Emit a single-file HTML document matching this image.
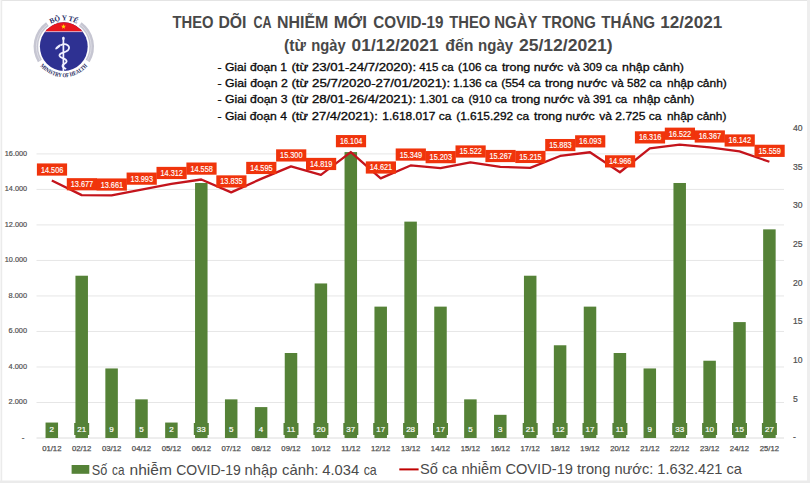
<!DOCTYPE html><html><head><meta charset="utf-8"><style>
html,body{margin:0;padding:0;background:#fff;}body{width:810px;height:483px;overflow:hidden;position:relative;font-family:"Liberation Sans", sans-serif;}
svg{position:absolute;left:0;top:0;}
</style></head><body>
<svg width="810" height="483" viewBox="0 0 810 483" font-family='"Liberation Sans", sans-serif'>
<rect x="0" y="0" width="810" height="483" fill="#fff"/>
<rect x="0" y="0" width="810" height="1" fill="#e4e4e4"/>
<rect x="0" y="0" width="1" height="483" fill="#f6f6f6"/>
<rect x="1" y="0" width="1.2" height="483" fill="#ebebeb"/>
<rect x="807" y="0" width="3" height="483" fill="#eeeeee"/>
<rect x="0" y="480.5" width="810" height="2.5" fill="#ebebeb"/>
<line x1="36.5" x2="784" y1="402.49" y2="402.49" stroke="#e6e6e6" stroke-width="1"/>
<line x1="36.5" x2="784" y1="366.98" y2="366.98" stroke="#e6e6e6" stroke-width="1"/>
<line x1="36.5" x2="784" y1="331.46" y2="331.46" stroke="#e6e6e6" stroke-width="1"/>
<line x1="36.5" x2="784" y1="295.95" y2="295.95" stroke="#e6e6e6" stroke-width="1"/>
<line x1="36.5" x2="784" y1="260.44" y2="260.44" stroke="#e6e6e6" stroke-width="1"/>
<line x1="36.5" x2="784" y1="224.92" y2="224.92" stroke="#e6e6e6" stroke-width="1"/>
<line x1="36.5" x2="784" y1="189.41" y2="189.41" stroke="#e6e6e6" stroke-width="1"/>
<line x1="36.5" x2="784" y1="153.90" y2="153.90" stroke="#e6e6e6" stroke-width="1"/>
<line x1="36.5" x2="784" y1="438" y2="438" stroke="#dcdcdc" stroke-width="1"/>
<text x="24.5" y="440.00" text-anchor="end" font-size="8" fill="#505050" stroke="#505050" stroke-width="0.2">-</text>
<text x="27.1" y="404.49" text-anchor="end" font-size="8" fill="#505050" stroke="#505050" stroke-width="0.2" textLength="18.5" lengthAdjust="spacingAndGlyphs">2.000</text>
<text x="27.1" y="368.98" text-anchor="end" font-size="8" fill="#505050" stroke="#505050" stroke-width="0.2" textLength="18.5" lengthAdjust="spacingAndGlyphs">4.000</text>
<text x="27.1" y="333.46" text-anchor="end" font-size="8" fill="#505050" stroke="#505050" stroke-width="0.2" textLength="18.5" lengthAdjust="spacingAndGlyphs">6.000</text>
<text x="27.1" y="297.95" text-anchor="end" font-size="8" fill="#505050" stroke="#505050" stroke-width="0.2" textLength="18.5" lengthAdjust="spacingAndGlyphs">8.000</text>
<text x="27.1" y="262.44" text-anchor="end" font-size="8" fill="#505050" stroke="#505050" stroke-width="0.2" textLength="22.3" lengthAdjust="spacingAndGlyphs">10.000</text>
<text x="27.1" y="226.92" text-anchor="end" font-size="8" fill="#505050" stroke="#505050" stroke-width="0.2" textLength="22.3" lengthAdjust="spacingAndGlyphs">12.000</text>
<text x="27.1" y="191.41" text-anchor="end" font-size="8" fill="#505050" stroke="#505050" stroke-width="0.2" textLength="22.3" lengthAdjust="spacingAndGlyphs">14.000</text>
<text x="27.1" y="155.90" text-anchor="end" font-size="8" fill="#505050" stroke="#505050" stroke-width="0.2" textLength="22.3" lengthAdjust="spacingAndGlyphs">16.000</text>
<text x="793" y="440.30" font-size="8.6" fill="#505050" stroke="#505050" stroke-width="0.2">-</text>
<text x="793" y="401.66" font-size="8.6" fill="#505050" stroke="#505050" stroke-width="0.2">5</text>
<text x="793" y="363.03" font-size="8.6" fill="#505050" stroke="#505050" stroke-width="0.2">10</text>
<text x="793" y="324.39" font-size="8.6" fill="#505050" stroke="#505050" stroke-width="0.2">15</text>
<text x="793" y="285.75" font-size="8.6" fill="#505050" stroke="#505050" stroke-width="0.2">20</text>
<text x="793" y="247.11" font-size="8.6" fill="#505050" stroke="#505050" stroke-width="0.2">25</text>
<text x="793" y="208.47" font-size="8.6" fill="#505050" stroke="#505050" stroke-width="0.2">30</text>
<text x="793" y="169.84" font-size="8.6" fill="#505050" stroke="#505050" stroke-width="0.2">35</text>
<text x="793" y="131.20" font-size="8.6" fill="#505050" stroke="#505050" stroke-width="0.2">40</text>
<rect x="45.55" y="422.55" width="12.50" height="15.46" fill="#558237"/>
<rect x="75.45" y="275.72" width="12.50" height="162.28" fill="#558237"/>
<rect x="105.35" y="368.45" width="12.50" height="69.55" fill="#558237"/>
<rect x="135.25" y="399.36" width="12.50" height="38.64" fill="#558237"/>
<rect x="165.15" y="422.55" width="12.50" height="15.46" fill="#558237"/>
<rect x="195.05" y="182.99" width="12.50" height="255.01" fill="#558237"/>
<rect x="224.95" y="399.36" width="12.50" height="38.64" fill="#558237"/>
<rect x="254.85" y="407.09" width="12.50" height="30.91" fill="#558237"/>
<rect x="284.75" y="353.00" width="12.50" height="85.00" fill="#558237"/>
<rect x="314.65" y="283.45" width="12.50" height="154.55" fill="#558237"/>
<rect x="344.55" y="152.08" width="12.50" height="285.92" fill="#558237"/>
<rect x="374.45" y="306.63" width="12.50" height="131.37" fill="#558237"/>
<rect x="404.35" y="221.63" width="12.50" height="216.37" fill="#558237"/>
<rect x="434.25" y="306.63" width="12.50" height="131.37" fill="#558237"/>
<rect x="464.15" y="399.36" width="12.50" height="38.64" fill="#558237"/>
<rect x="494.05" y="414.82" width="12.50" height="23.18" fill="#558237"/>
<rect x="523.95" y="275.72" width="12.50" height="162.28" fill="#558237"/>
<rect x="553.85" y="345.27" width="12.50" height="92.73" fill="#558237"/>
<rect x="583.75" y="306.63" width="12.50" height="131.37" fill="#558237"/>
<rect x="613.65" y="353.00" width="12.50" height="85.00" fill="#558237"/>
<rect x="643.55" y="368.45" width="12.50" height="69.55" fill="#558237"/>
<rect x="673.45" y="182.99" width="12.50" height="255.01" fill="#558237"/>
<rect x="703.35" y="360.73" width="12.50" height="77.28" fill="#558237"/>
<rect x="733.25" y="322.09" width="12.50" height="115.91" fill="#558237"/>
<rect x="763.15" y="229.36" width="12.50" height="208.64" fill="#558237"/>
<polyline points="51.80,180.43 81.70,195.15 111.60,195.43 141.50,189.54 171.40,183.87 201.30,179.50 231.20,192.34 261.10,178.85 291.00,166.33 320.90,174.87 350.80,152.05 380.70,178.39 410.60,165.46 440.50,168.05 470.40,162.39 500.30,166.92 530.20,167.84 560.10,155.98 590.00,152.25 619.90,172.26 649.80,148.29 679.70,144.63 709.60,147.38 739.50,151.38 769.40,161.73" fill="none" stroke="#c4141c" stroke-width="2.3" stroke-linejoin="round"/>
<rect x="46.80" y="423" width="10.00" height="12" fill="#558237"/>
<text x="51.80" y="432.2" text-anchor="middle" font-size="8" fill="#fff" stroke="#fff" stroke-width="0.2">2</text>
<rect x="74.20" y="423" width="15.00" height="12" fill="#558237"/>
<text x="81.70" y="432.2" text-anchor="middle" font-size="8" fill="#fff" stroke="#fff" stroke-width="0.2">21</text>
<rect x="106.60" y="423" width="10.00" height="12" fill="#558237"/>
<text x="111.60" y="432.2" text-anchor="middle" font-size="8" fill="#fff" stroke="#fff" stroke-width="0.2">9</text>
<rect x="136.50" y="423" width="10.00" height="12" fill="#558237"/>
<text x="141.50" y="432.2" text-anchor="middle" font-size="8" fill="#fff" stroke="#fff" stroke-width="0.2">5</text>
<rect x="166.40" y="423" width="10.00" height="12" fill="#558237"/>
<text x="171.40" y="432.2" text-anchor="middle" font-size="8" fill="#fff" stroke="#fff" stroke-width="0.2">2</text>
<rect x="193.80" y="423" width="15.00" height="12" fill="#558237"/>
<text x="201.30" y="432.2" text-anchor="middle" font-size="8" fill="#fff" stroke="#fff" stroke-width="0.2">33</text>
<rect x="226.20" y="423" width="10.00" height="12" fill="#558237"/>
<text x="231.20" y="432.2" text-anchor="middle" font-size="8" fill="#fff" stroke="#fff" stroke-width="0.2">5</text>
<rect x="256.10" y="423" width="10.00" height="12" fill="#558237"/>
<text x="261.10" y="432.2" text-anchor="middle" font-size="8" fill="#fff" stroke="#fff" stroke-width="0.2">4</text>
<rect x="283.50" y="423" width="15.00" height="12" fill="#558237"/>
<text x="291.00" y="432.2" text-anchor="middle" font-size="8" fill="#fff" stroke="#fff" stroke-width="0.2">11</text>
<rect x="313.40" y="423" width="15.00" height="12" fill="#558237"/>
<text x="320.90" y="432.2" text-anchor="middle" font-size="8" fill="#fff" stroke="#fff" stroke-width="0.2">20</text>
<rect x="343.30" y="423" width="15.00" height="12" fill="#558237"/>
<text x="350.80" y="432.2" text-anchor="middle" font-size="8" fill="#fff" stroke="#fff" stroke-width="0.2">37</text>
<rect x="373.20" y="423" width="15.00" height="12" fill="#558237"/>
<text x="380.70" y="432.2" text-anchor="middle" font-size="8" fill="#fff" stroke="#fff" stroke-width="0.2">17</text>
<rect x="403.10" y="423" width="15.00" height="12" fill="#558237"/>
<text x="410.60" y="432.2" text-anchor="middle" font-size="8" fill="#fff" stroke="#fff" stroke-width="0.2">28</text>
<rect x="433.00" y="423" width="15.00" height="12" fill="#558237"/>
<text x="440.50" y="432.2" text-anchor="middle" font-size="8" fill="#fff" stroke="#fff" stroke-width="0.2">17</text>
<rect x="465.40" y="423" width="10.00" height="12" fill="#558237"/>
<text x="470.40" y="432.2" text-anchor="middle" font-size="8" fill="#fff" stroke="#fff" stroke-width="0.2">5</text>
<rect x="495.30" y="423" width="10.00" height="12" fill="#558237"/>
<text x="500.30" y="432.2" text-anchor="middle" font-size="8" fill="#fff" stroke="#fff" stroke-width="0.2">3</text>
<rect x="522.70" y="423" width="15.00" height="12" fill="#558237"/>
<text x="530.20" y="432.2" text-anchor="middle" font-size="8" fill="#fff" stroke="#fff" stroke-width="0.2">21</text>
<rect x="552.60" y="423" width="15.00" height="12" fill="#558237"/>
<text x="560.10" y="432.2" text-anchor="middle" font-size="8" fill="#fff" stroke="#fff" stroke-width="0.2">12</text>
<rect x="582.50" y="423" width="15.00" height="12" fill="#558237"/>
<text x="590.00" y="432.2" text-anchor="middle" font-size="8" fill="#fff" stroke="#fff" stroke-width="0.2">17</text>
<rect x="612.40" y="423" width="15.00" height="12" fill="#558237"/>
<text x="619.90" y="432.2" text-anchor="middle" font-size="8" fill="#fff" stroke="#fff" stroke-width="0.2">11</text>
<rect x="644.80" y="423" width="10.00" height="12" fill="#558237"/>
<text x="649.80" y="432.2" text-anchor="middle" font-size="8" fill="#fff" stroke="#fff" stroke-width="0.2">9</text>
<rect x="672.20" y="423" width="15.00" height="12" fill="#558237"/>
<text x="679.70" y="432.2" text-anchor="middle" font-size="8" fill="#fff" stroke="#fff" stroke-width="0.2">33</text>
<rect x="702.10" y="423" width="15.00" height="12" fill="#558237"/>
<text x="709.60" y="432.2" text-anchor="middle" font-size="8" fill="#fff" stroke="#fff" stroke-width="0.2">10</text>
<rect x="732.00" y="423" width="15.00" height="12" fill="#558237"/>
<text x="739.50" y="432.2" text-anchor="middle" font-size="8" fill="#fff" stroke="#fff" stroke-width="0.2">15</text>
<rect x="761.90" y="423" width="15.00" height="12" fill="#558237"/>
<text x="769.40" y="432.2" text-anchor="middle" font-size="8" fill="#fff" stroke="#fff" stroke-width="0.2">27</text>
<rect x="36.90" y="163.43" width="30.2" height="12.2" fill="#f0340c"/>
<text x="52.10" y="172.53" text-anchor="middle" font-size="8.3" fill="#fff" stroke="#fff" stroke-width="0.15" textLength="22.4" lengthAdjust="spacingAndGlyphs">14.506</text>
<rect x="66.80" y="178.15" width="30.2" height="12.2" fill="#f0340c"/>
<text x="82.00" y="187.25" text-anchor="middle" font-size="8.3" fill="#fff" stroke="#fff" stroke-width="0.15" textLength="22.4" lengthAdjust="spacingAndGlyphs">13.677</text>
<rect x="96.70" y="178.43" width="30.2" height="12.2" fill="#f0340c"/>
<text x="111.90" y="187.53" text-anchor="middle" font-size="8.3" fill="#fff" stroke="#fff" stroke-width="0.15" textLength="22.4" lengthAdjust="spacingAndGlyphs">13.661</text>
<rect x="126.60" y="172.54" width="30.2" height="12.2" fill="#f0340c"/>
<text x="141.80" y="181.64" text-anchor="middle" font-size="8.3" fill="#fff" stroke="#fff" stroke-width="0.15" textLength="22.4" lengthAdjust="spacingAndGlyphs">13.993</text>
<rect x="156.50" y="166.87" width="30.2" height="12.2" fill="#f0340c"/>
<text x="171.70" y="175.97" text-anchor="middle" font-size="8.3" fill="#fff" stroke="#fff" stroke-width="0.15" textLength="22.4" lengthAdjust="spacingAndGlyphs">14.312</text>
<rect x="186.40" y="162.50" width="30.2" height="12.2" fill="#f0340c"/>
<text x="201.60" y="171.60" text-anchor="middle" font-size="8.3" fill="#fff" stroke="#fff" stroke-width="0.15" textLength="22.4" lengthAdjust="spacingAndGlyphs">14.558</text>
<rect x="216.30" y="175.34" width="30.2" height="12.2" fill="#f0340c"/>
<text x="231.50" y="184.44" text-anchor="middle" font-size="8.3" fill="#fff" stroke="#fff" stroke-width="0.15" textLength="22.4" lengthAdjust="spacingAndGlyphs">13.835</text>
<rect x="246.20" y="161.85" width="30.2" height="12.2" fill="#f0340c"/>
<text x="261.40" y="170.95" text-anchor="middle" font-size="8.3" fill="#fff" stroke="#fff" stroke-width="0.15" textLength="22.4" lengthAdjust="spacingAndGlyphs">14.595</text>
<rect x="276.10" y="149.33" width="30.2" height="12.2" fill="#f0340c"/>
<text x="291.30" y="158.43" text-anchor="middle" font-size="8.3" fill="#fff" stroke="#fff" stroke-width="0.15" textLength="22.4" lengthAdjust="spacingAndGlyphs">15.300</text>
<rect x="306.00" y="157.87" width="30.2" height="12.2" fill="#f0340c"/>
<text x="321.20" y="166.97" text-anchor="middle" font-size="8.3" fill="#fff" stroke="#fff" stroke-width="0.15" textLength="22.4" lengthAdjust="spacingAndGlyphs">14.819</text>
<rect x="335.90" y="135.05" width="30.2" height="12.2" fill="#f0340c"/>
<text x="351.10" y="144.15" text-anchor="middle" font-size="8.3" fill="#fff" stroke="#fff" stroke-width="0.15" textLength="22.4" lengthAdjust="spacingAndGlyphs">16.104</text>
<rect x="365.80" y="161.39" width="30.2" height="12.2" fill="#f0340c"/>
<text x="381.00" y="170.49" text-anchor="middle" font-size="8.3" fill="#fff" stroke="#fff" stroke-width="0.15" textLength="22.4" lengthAdjust="spacingAndGlyphs">14.621</text>
<rect x="395.70" y="148.46" width="30.2" height="12.2" fill="#f0340c"/>
<text x="410.90" y="157.56" text-anchor="middle" font-size="8.3" fill="#fff" stroke="#fff" stroke-width="0.15" textLength="22.4" lengthAdjust="spacingAndGlyphs">15.349</text>
<rect x="425.60" y="151.05" width="30.2" height="12.2" fill="#f0340c"/>
<text x="440.80" y="160.15" text-anchor="middle" font-size="8.3" fill="#fff" stroke="#fff" stroke-width="0.15" textLength="22.4" lengthAdjust="spacingAndGlyphs">15.203</text>
<rect x="455.50" y="145.39" width="30.2" height="12.2" fill="#f0340c"/>
<text x="470.70" y="154.49" text-anchor="middle" font-size="8.3" fill="#fff" stroke="#fff" stroke-width="0.15" textLength="22.4" lengthAdjust="spacingAndGlyphs">15.522</text>
<rect x="485.40" y="149.92" width="30.2" height="12.2" fill="#f0340c"/>
<text x="500.60" y="159.02" text-anchor="middle" font-size="8.3" fill="#fff" stroke="#fff" stroke-width="0.15" textLength="22.4" lengthAdjust="spacingAndGlyphs">15.267</text>
<rect x="515.30" y="150.84" width="30.2" height="12.2" fill="#f0340c"/>
<text x="530.50" y="159.94" text-anchor="middle" font-size="8.3" fill="#fff" stroke="#fff" stroke-width="0.15" textLength="22.4" lengthAdjust="spacingAndGlyphs">15.215</text>
<rect x="545.20" y="138.98" width="30.2" height="12.2" fill="#f0340c"/>
<text x="560.40" y="148.08" text-anchor="middle" font-size="8.3" fill="#fff" stroke="#fff" stroke-width="0.15" textLength="22.4" lengthAdjust="spacingAndGlyphs">15.883</text>
<rect x="575.10" y="135.25" width="30.2" height="12.2" fill="#f0340c"/>
<text x="590.30" y="144.35" text-anchor="middle" font-size="8.3" fill="#fff" stroke="#fff" stroke-width="0.15" textLength="22.4" lengthAdjust="spacingAndGlyphs">16.093</text>
<rect x="605.00" y="155.26" width="30.2" height="12.2" fill="#f0340c"/>
<text x="620.20" y="164.36" text-anchor="middle" font-size="8.3" fill="#fff" stroke="#fff" stroke-width="0.15" textLength="22.4" lengthAdjust="spacingAndGlyphs">14.966</text>
<rect x="634.90" y="131.29" width="30.2" height="12.2" fill="#f0340c"/>
<text x="650.10" y="140.39" text-anchor="middle" font-size="8.3" fill="#fff" stroke="#fff" stroke-width="0.15" textLength="22.4" lengthAdjust="spacingAndGlyphs">16.316</text>
<rect x="664.80" y="127.63" width="30.2" height="12.2" fill="#f0340c"/>
<text x="680.00" y="136.73" text-anchor="middle" font-size="8.3" fill="#fff" stroke="#fff" stroke-width="0.15" textLength="22.4" lengthAdjust="spacingAndGlyphs">16.522</text>
<rect x="694.70" y="130.38" width="30.2" height="12.2" fill="#f0340c"/>
<text x="709.90" y="139.48" text-anchor="middle" font-size="8.3" fill="#fff" stroke="#fff" stroke-width="0.15" textLength="22.4" lengthAdjust="spacingAndGlyphs">16.367</text>
<rect x="724.60" y="134.38" width="30.2" height="12.2" fill="#f0340c"/>
<text x="739.80" y="143.48" text-anchor="middle" font-size="8.3" fill="#fff" stroke="#fff" stroke-width="0.15" textLength="22.4" lengthAdjust="spacingAndGlyphs">16.142</text>
<rect x="754.50" y="144.73" width="30.2" height="12.2" fill="#f0340c"/>
<text x="769.70" y="153.83" text-anchor="middle" font-size="8.3" fill="#fff" stroke="#fff" stroke-width="0.15" textLength="22.4" lengthAdjust="spacingAndGlyphs">15.559</text>
<text x="51.80" y="451.3" text-anchor="middle" font-size="7.5" fill="#505050" stroke="#505050" stroke-width="0.25" textLength="19.3" lengthAdjust="spacingAndGlyphs">01/12</text>
<text x="81.70" y="451.3" text-anchor="middle" font-size="7.5" fill="#505050" stroke="#505050" stroke-width="0.25" textLength="19.3" lengthAdjust="spacingAndGlyphs">02/12</text>
<text x="111.60" y="451.3" text-anchor="middle" font-size="7.5" fill="#505050" stroke="#505050" stroke-width="0.25" textLength="19.3" lengthAdjust="spacingAndGlyphs">03/12</text>
<text x="141.50" y="451.3" text-anchor="middle" font-size="7.5" fill="#505050" stroke="#505050" stroke-width="0.25" textLength="19.3" lengthAdjust="spacingAndGlyphs">04/12</text>
<text x="171.40" y="451.3" text-anchor="middle" font-size="7.5" fill="#505050" stroke="#505050" stroke-width="0.25" textLength="19.3" lengthAdjust="spacingAndGlyphs">05/12</text>
<text x="201.30" y="451.3" text-anchor="middle" font-size="7.5" fill="#505050" stroke="#505050" stroke-width="0.25" textLength="19.3" lengthAdjust="spacingAndGlyphs">06/12</text>
<text x="231.20" y="451.3" text-anchor="middle" font-size="7.5" fill="#505050" stroke="#505050" stroke-width="0.25" textLength="19.3" lengthAdjust="spacingAndGlyphs">07/12</text>
<text x="261.10" y="451.3" text-anchor="middle" font-size="7.5" fill="#505050" stroke="#505050" stroke-width="0.25" textLength="19.3" lengthAdjust="spacingAndGlyphs">08/12</text>
<text x="291.00" y="451.3" text-anchor="middle" font-size="7.5" fill="#505050" stroke="#505050" stroke-width="0.25" textLength="19.3" lengthAdjust="spacingAndGlyphs">09/12</text>
<text x="320.90" y="451.3" text-anchor="middle" font-size="7.5" fill="#505050" stroke="#505050" stroke-width="0.25" textLength="19.3" lengthAdjust="spacingAndGlyphs">10/12</text>
<text x="350.80" y="451.3" text-anchor="middle" font-size="7.5" fill="#505050" stroke="#505050" stroke-width="0.25" textLength="19.3" lengthAdjust="spacingAndGlyphs">11/12</text>
<text x="380.70" y="451.3" text-anchor="middle" font-size="7.5" fill="#505050" stroke="#505050" stroke-width="0.25" textLength="19.3" lengthAdjust="spacingAndGlyphs">12/12</text>
<text x="410.60" y="451.3" text-anchor="middle" font-size="7.5" fill="#505050" stroke="#505050" stroke-width="0.25" textLength="19.3" lengthAdjust="spacingAndGlyphs">13/12</text>
<text x="440.50" y="451.3" text-anchor="middle" font-size="7.5" fill="#505050" stroke="#505050" stroke-width="0.25" textLength="19.3" lengthAdjust="spacingAndGlyphs">14/12</text>
<text x="470.40" y="451.3" text-anchor="middle" font-size="7.5" fill="#505050" stroke="#505050" stroke-width="0.25" textLength="19.3" lengthAdjust="spacingAndGlyphs">15/12</text>
<text x="500.30" y="451.3" text-anchor="middle" font-size="7.5" fill="#505050" stroke="#505050" stroke-width="0.25" textLength="19.3" lengthAdjust="spacingAndGlyphs">16/12</text>
<text x="530.20" y="451.3" text-anchor="middle" font-size="7.5" fill="#505050" stroke="#505050" stroke-width="0.25" textLength="19.3" lengthAdjust="spacingAndGlyphs">17/12</text>
<text x="560.10" y="451.3" text-anchor="middle" font-size="7.5" fill="#505050" stroke="#505050" stroke-width="0.25" textLength="19.3" lengthAdjust="spacingAndGlyphs">18/12</text>
<text x="590.00" y="451.3" text-anchor="middle" font-size="7.5" fill="#505050" stroke="#505050" stroke-width="0.25" textLength="19.3" lengthAdjust="spacingAndGlyphs">19/12</text>
<text x="619.90" y="451.3" text-anchor="middle" font-size="7.5" fill="#505050" stroke="#505050" stroke-width="0.25" textLength="19.3" lengthAdjust="spacingAndGlyphs">20/12</text>
<text x="649.80" y="451.3" text-anchor="middle" font-size="7.5" fill="#505050" stroke="#505050" stroke-width="0.25" textLength="19.3" lengthAdjust="spacingAndGlyphs">21/12</text>
<text x="679.70" y="451.3" text-anchor="middle" font-size="7.5" fill="#505050" stroke="#505050" stroke-width="0.25" textLength="19.3" lengthAdjust="spacingAndGlyphs">22/12</text>
<text x="709.60" y="451.3" text-anchor="middle" font-size="7.5" fill="#505050" stroke="#505050" stroke-width="0.25" textLength="19.3" lengthAdjust="spacingAndGlyphs">23/12</text>
<text x="739.50" y="451.3" text-anchor="middle" font-size="7.5" fill="#505050" stroke="#505050" stroke-width="0.25" textLength="19.3" lengthAdjust="spacingAndGlyphs">24/12</text>
<text x="769.40" y="451.3" text-anchor="middle" font-size="7.5" fill="#505050" stroke="#505050" stroke-width="0.25" textLength="19.3" lengthAdjust="spacingAndGlyphs">25/12</text>
<rect x="71.6" y="465" width="17.7" height="8.8" fill="#558237"/>
<text x="91.70" y="474.6" font-size="15" fill="#4a4a4a" textLength="15.54" lengthAdjust="spacingAndGlyphs">Số</text>
<text x="112.10" y="474.6" font-size="15" fill="#4a4a4a" textLength="12.39" lengthAdjust="spacingAndGlyphs">ca</text>
<text x="129.57" y="474.6" font-size="15" fill="#4a4a4a" textLength="42.25" lengthAdjust="spacingAndGlyphs">nhiễm</text>
<text x="176.20" y="474.6" font-size="15" fill="#4a4a4a" textLength="64.52" lengthAdjust="spacingAndGlyphs">COVID-19</text>
<text x="244.62" y="474.6" font-size="15" fill="#4a4a4a" textLength="32.72" lengthAdjust="spacingAndGlyphs">nhập</text>
<text x="282.00" y="474.6" font-size="15" fill="#4a4a4a" textLength="36.36" lengthAdjust="spacingAndGlyphs">cảnh:</text>
<text x="322.30" y="474.6" font-size="15" fill="#4a4a4a" textLength="36.84" lengthAdjust="spacingAndGlyphs">4.034</text>
<text x="363.70" y="474.6" font-size="15" fill="#4a4a4a" textLength="13.06" lengthAdjust="spacingAndGlyphs">ca</text>
<line x1="399.3" x2="418.6" y1="469.4" y2="469.4" stroke="#c00000" stroke-width="2"/>
<text x="420" y="473.5" font-size="15" fill="#4a4a4a" textLength="322" lengthAdjust="spacingAndGlyphs">Số ca nhiễm COVID-19 trong nước: 1.632.421 ca</text>
<text x="172.50" y="28.40" font-size="16.2" font-weight="bold" fill="#484848" textLength="41.04" lengthAdjust="spacingAndGlyphs">THEO</text>
<text x="218.42" y="28.40" font-size="16.2" font-weight="bold" fill="#484848" textLength="28.06" lengthAdjust="spacingAndGlyphs">DÕI</text>
<text x="253.40" y="28.40" font-size="16.2" font-weight="bold" fill="#484848" textLength="18.06" lengthAdjust="spacingAndGlyphs">CA</text>
<text x="277.12" y="28.40" font-size="16.2" font-weight="bold" fill="#484848" textLength="51.26" lengthAdjust="spacingAndGlyphs">NHIỄM</text>
<text x="333.76" y="28.40" font-size="16.2" font-weight="bold" fill="#484848" textLength="33.16" lengthAdjust="spacingAndGlyphs">MỚI</text>
<text x="373.30" y="28.40" font-size="16.2" font-weight="bold" fill="#484848" textLength="70.10" lengthAdjust="spacingAndGlyphs">COVID-19</text>
<text x="449.30" y="28.40" font-size="16.2" font-weight="bold" fill="#484848" textLength="41.04" lengthAdjust="spacingAndGlyphs">THEO</text>
<text x="494.28" y="28.40" font-size="16.2" font-weight="bold" fill="#484848" textLength="43.24" lengthAdjust="spacingAndGlyphs">NGÀY</text>
<text x="542.10" y="28.40" font-size="16.2" font-weight="bold" fill="#484848" textLength="53.84" lengthAdjust="spacingAndGlyphs">TRONG</text>
<text x="601.30" y="28.40" font-size="16.2" font-weight="bold" fill="#484848" textLength="53.85" lengthAdjust="spacingAndGlyphs">THÁNG</text>
<text x="660.34" y="28.40" font-size="16.2" font-weight="bold" fill="#484848" textLength="61.86" lengthAdjust="spacingAndGlyphs">12/2021</text>
<text x="284.00" y="50.80" font-size="16.2" font-weight="bold" fill="#484848" textLength="21.93" lengthAdjust="spacingAndGlyphs">(từ</text>
<text x="311.19" y="50.80" font-size="16.2" font-weight="bold" fill="#484848" textLength="34.52" lengthAdjust="spacingAndGlyphs">ngày</text>
<text x="351.60" y="50.80" font-size="16.2" font-weight="bold" fill="#484848" textLength="87.00" lengthAdjust="spacingAndGlyphs">01/12/2021</text>
<text x="445.30" y="50.80" font-size="16.2" font-weight="bold" fill="#484848" textLength="28.17" lengthAdjust="spacingAndGlyphs">đến</text>
<text x="478.07" y="50.80" font-size="16.2" font-weight="bold" fill="#484848" textLength="35.03" lengthAdjust="spacingAndGlyphs">ngày</text>
<text x="518.90" y="50.80" font-size="16.2" font-weight="bold" fill="#484848" textLength="93.82" lengthAdjust="spacingAndGlyphs">25/12/2021)</text>
<text x="217.50" y="70.60" font-size="11.7" fill="#0a0a0a" stroke="#0a0a0a" stroke-width="0.32" textLength="69.52" lengthAdjust="spacingAndGlyphs">- Giai đoạn 1</text>
<text x="291.40" y="70.60" font-size="11.7" fill="#0a0a0a" stroke="#0a0a0a" stroke-width="0.32" textLength="124.68" lengthAdjust="spacingAndGlyphs">(từ 23/01-24/7/2020):</text>
<text x="419.20" y="70.60" font-size="11.7" fill="#0a0a0a" stroke="#0a0a0a" stroke-width="0.32" textLength="34.31" lengthAdjust="spacingAndGlyphs">415 ca</text>
<text x="458.00" y="70.60" font-size="11.7" fill="#0a0a0a" stroke="#0a0a0a" stroke-width="0.32" textLength="39.00" lengthAdjust="spacingAndGlyphs">(106 ca</text>
<text x="501.90" y="70.60" font-size="11.7" fill="#0a0a0a" stroke="#0a0a0a" stroke-width="0.32" textLength="61.43" lengthAdjust="spacingAndGlyphs">trong nước</text>
<text x="567.80" y="70.60" font-size="11.7" fill="#0a0a0a" stroke="#0a0a0a" stroke-width="0.32" textLength="49.51" lengthAdjust="spacingAndGlyphs">và 309 ca</text>
<text x="622.10" y="70.60" font-size="11.7" fill="#0a0a0a" stroke="#0a0a0a" stroke-width="0.32" textLength="61.89" lengthAdjust="spacingAndGlyphs">nhập cảnh)</text>
<text x="217.50" y="87.00" font-size="11.7" fill="#0a0a0a" stroke="#0a0a0a" stroke-width="0.32" textLength="70.22" lengthAdjust="spacingAndGlyphs">- Giai đoạn 2</text>
<text x="291.40" y="87.00" font-size="11.7" fill="#0a0a0a" stroke="#0a0a0a" stroke-width="0.32" textLength="158.78" lengthAdjust="spacingAndGlyphs">(từ 25/7/2020-27/01/2021):</text>
<text x="453.00" y="87.00" font-size="11.7" fill="#0a0a0a" stroke="#0a0a0a" stroke-width="0.32" textLength="44.01" lengthAdjust="spacingAndGlyphs">1.136 ca</text>
<text x="501.20" y="87.00" font-size="11.7" fill="#0a0a0a" stroke="#0a0a0a" stroke-width="0.32" textLength="39.49" lengthAdjust="spacingAndGlyphs">(554 ca</text>
<text x="544.90" y="87.00" font-size="11.7" fill="#0a0a0a" stroke="#0a0a0a" stroke-width="0.32" textLength="62.23" lengthAdjust="spacingAndGlyphs">trong nước</text>
<text x="611.60" y="87.00" font-size="11.7" fill="#0a0a0a" stroke="#0a0a0a" stroke-width="0.32" textLength="50.01" lengthAdjust="spacingAndGlyphs">và 582 ca</text>
<text x="667.00" y="87.00" font-size="11.7" fill="#0a0a0a" stroke="#0a0a0a" stroke-width="0.32" textLength="59.79" lengthAdjust="spacingAndGlyphs">nhập cảnh)</text>
<text x="217.50" y="103.30" font-size="11.7" fill="#0a0a0a" stroke="#0a0a0a" stroke-width="0.32" textLength="70.02" lengthAdjust="spacingAndGlyphs">- Giai đoạn 3</text>
<text x="291.40" y="103.30" font-size="11.7" fill="#0a0a0a" stroke="#0a0a0a" stroke-width="0.32" textLength="124.68" lengthAdjust="spacingAndGlyphs">(từ 28/01-26/4/2021):</text>
<text x="419.20" y="103.30" font-size="11.7" fill="#0a0a0a" stroke="#0a0a0a" stroke-width="0.32" textLength="44.50" lengthAdjust="spacingAndGlyphs">1.301 ca</text>
<text x="468.50" y="103.30" font-size="11.7" fill="#0a0a0a" stroke="#0a0a0a" stroke-width="0.32" textLength="38.41" lengthAdjust="spacingAndGlyphs">(910 ca</text>
<text x="511.70" y="103.30" font-size="11.7" fill="#0a0a0a" stroke="#0a0a0a" stroke-width="0.32" textLength="62.13" lengthAdjust="spacingAndGlyphs">trong nước</text>
<text x="577.70" y="103.30" font-size="11.7" fill="#0a0a0a" stroke="#0a0a0a" stroke-width="0.32" textLength="49.51" lengthAdjust="spacingAndGlyphs">và 391 ca</text>
<text x="633.00" y="103.30" font-size="11.7" fill="#0a0a0a" stroke="#0a0a0a" stroke-width="0.32" textLength="61.39" lengthAdjust="spacingAndGlyphs">nhập cảnh)</text>
<text x="217.50" y="119.90" font-size="11.7" fill="#0a0a0a" stroke="#0a0a0a" stroke-width="0.32" textLength="69.48" lengthAdjust="spacingAndGlyphs">- Giai đoạn 4</text>
<text x="291.40" y="119.90" font-size="11.7" fill="#0a0a0a" stroke="#0a0a0a" stroke-width="0.32" textLength="86.38" lengthAdjust="spacingAndGlyphs">(từ 27/4/2021):</text>
<text x="382.30" y="119.90" font-size="11.7" fill="#0a0a0a" stroke="#0a0a0a" stroke-width="0.32" textLength="69.19" lengthAdjust="spacingAndGlyphs">1.618.017 ca</text>
<text x="456.20" y="119.90" font-size="11.7" fill="#0a0a0a" stroke="#0a0a0a" stroke-width="0.32" textLength="72.89" lengthAdjust="spacingAndGlyphs">(1.615.292 ca</text>
<text x="534.00" y="119.90" font-size="11.7" fill="#0a0a0a" stroke="#0a0a0a" stroke-width="0.32" textLength="60.74" lengthAdjust="spacingAndGlyphs">trong nước</text>
<text x="599.30" y="119.90" font-size="11.7" fill="#0a0a0a" stroke="#0a0a0a" stroke-width="0.32" textLength="62.28" lengthAdjust="spacingAndGlyphs">và 2.725 ca</text>
<text x="667.00" y="119.90" font-size="11.7" fill="#0a0a0a" stroke="#0a0a0a" stroke-width="0.32" textLength="59.39" lengthAdjust="spacingAndGlyphs">nhập cảnh)</text>
<g id="logo">
<path d="M39.89,60.97 A27.90,27.90 0 0 1 47.40,24.03" fill="none" stroke="#c6c6d2" stroke-width="4.6" />
<path d="M40.31,60.71 A27.40,27.40 0 0 1 47.69,24.43" fill="none" stroke="#dcdce4" stroke-width="1.0" />
<path d="M80.20,24.03 A27.90,27.90 0 0 1 87.71,60.97" fill="none" stroke="#c6c6d2" stroke-width="4.6" />
<path d="M79.91,24.43 A27.40,27.40 0 0 1 87.29,60.71" fill="none" stroke="#dcdce4" stroke-width="1.0" />
<clipPath id="cc"><ellipse cx="63.80" cy="46.60" rx="23.9" ry="24.3"/></clipPath>
<ellipse cx="63.80" cy="46.60" rx="23.9" ry="24.3" fill="#2e3192"/>
<rect x="38" y="20" width="54" height="11.1" fill="#e8161e" clip-path="url(#cc)"/>
<rect x="38" y="31.1" width="54" height="1" fill="#f0a8b8" clip-path="url(#cc)"/>
<polygon points="63.50,24.00 64.12,25.75 65.97,25.80 64.50,26.92 65.03,28.70 63.50,27.65 61.97,28.70 62.50,26.92 61.03,25.80 62.88,25.75" fill="#ffd800"/>
<path d="M63.4,37.5 L63.4,70.8" stroke="#f4f4ff" stroke-width="1.7" stroke-linecap="round"/>
<ellipse cx="63.4" cy="38.5" rx="1.2" ry="1.8" fill="#f4f4ff"/>
<ellipse cx="58.1" cy="46.8" rx="3.6" ry="1.2" transform="rotate(-42 58.1 46.8)" fill="#eeeeff"/>
<path d="M60.8,45.3 C66,42.3 71.5,46.5 68,50.2 C64.5,53.2 58.8,52.5 59.5,55.8 C60.3,58.8 67,58.2 66.6,61.6 C66.2,64.2 62,63.6 62.4,66 C62.8,67.8 65,68.2 66,69.2" fill="none" stroke="#f0f0ff" stroke-width="1.8"/>
<path id="tb" d="M36.78,60.97 A30.60,30.60 0 0 0 90.82,60.97" fill="none"/>
<path id="tt" d="M46.96,26.53 A26.20,26.20 0 0 1 80.64,26.53" fill="none"/>
<text font-family="'Liberation Serif', serif" font-size="7.2" font-weight="bold" fill="#262d66"><textPath href="#tt" startOffset="50%" text-anchor="middle" textLength="27" lengthAdjust="spacing">BỘ Y TẾ</textPath></text>
<text font-family="'Liberation Serif', serif" font-size="6" font-weight="bold" fill="#22285a"><textPath href="#tb" startOffset="50%" text-anchor="middle" textLength="54" lengthAdjust="spacingAndGlyphs">MINISTRY OF HEALTH</textPath></text>
</g>
</svg></body></html>
